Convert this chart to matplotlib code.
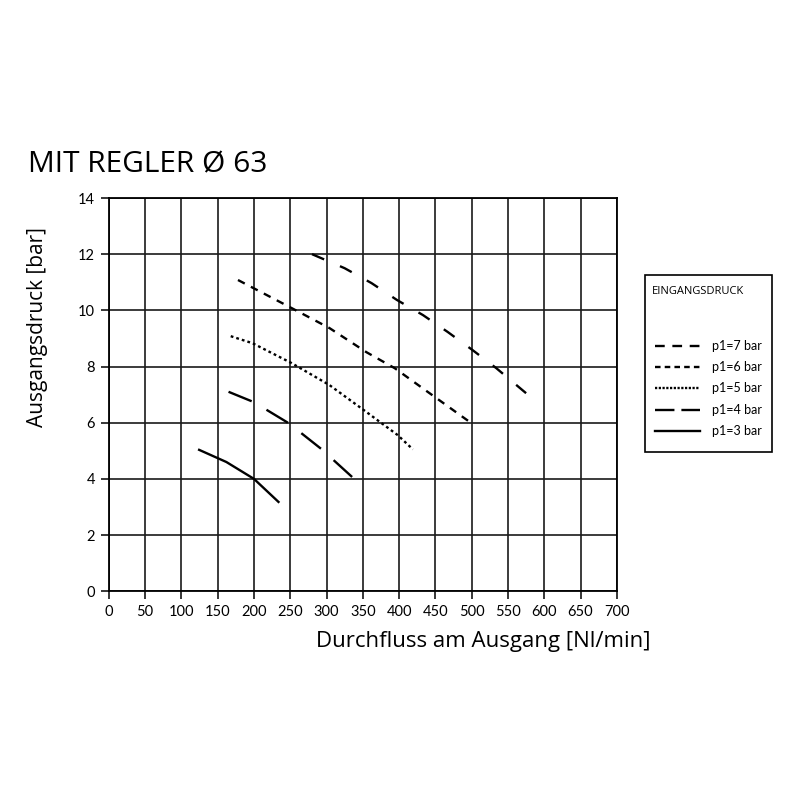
import matplotlib
matplotlib.use('Agg')
import matplotlib.pyplot as plt
from matplotlib.lines import Line2D
from matplotlib.patches import Rectangle

plt.rcParams['lines.scale_dashes'] = False

# data
x_p7 = [280, 325, 362, 397, 433, 467, 501, 534, 575]
y_p7 = [12.0, 11.5, 10.97, 10.37, 9.83, 9.23, 8.59, 7.94, 7.05]
x_p6 = [178, 252, 304, 355, 394, 442, 496]
y_p6 = [11.08, 10.08, 9.37, 8.51, 7.94, 7.05, 6.05]
x_p5 = [168, 198, 252, 304, 355, 398, 419]
y_p5 = [9.08, 8.83, 8.12, 7.34, 6.38, 5.56, 5.05]
x_p4 = [165, 200, 248, 293, 336]
y_p4 = [7.1, 6.73, 5.98, 5.06, 4.05]
x_p3 = [123, 162, 200, 235]
y_p3 = [5.05, 4.6, 4.0, 3.15]

labels = ['p1=7 bar', 'p1=6 bar', 'p1=5 bar', 'p1=4 bar', 'p1=3 bar']
dashes = [(9.5, 12.4), (5.5, 5), (2, 2.2), (18, 12.3), None]
leg_dashes = [(7, 5.5), (4, 3), (1.6, 1.1), (14, 5), None]
xticks = list(range(0, 701, 50))
yticks = list(range(0, 15, 2))

fig = plt.figure(figsize=(8, 8), dpi=100)
ax = fig.add_axes([0.136, 0.261, 0.635, 0.4915])

series = [(x_p7, y_p7), (x_p6, y_p6), (x_p5, y_p5), (x_p4, y_p4), (x_p3, y_p3)]
for (xs, ys), d in zip(series, dashes):
    ln, = ax.plot(xs, ys, color='black', lw=1.7, solid_capstyle='butt')
    if d is not None:
        ln.set_dashes(d)
        ln.set_dash_capstyle('butt')

ax.set_xlim(0, 700)
ax.set_ylim(0, 14)
ax.set_xticks(xticks)
ax.set_yticks(yticks)
ax.grid(True, color='#1a1a1a', lw=1.2)
ax.set_axisbelow(True)
for s in ax.spines.values():
    s.set_color('black')
    s.set_linewidth(1.3)
ax.tick_params(direction='out', length=6, width=1.1, labelsize=10.5, pad=4)
for lab in ax.get_xticklabels() + ax.get_yticklabels():
    lab.set_family('Lato')

fig.text(0.604, 0.1975, 'Durchfluss am Ausgang [Nl/min]', family='Open Sans',
         fontsize=16, ha='center', va='center')
fig.text(0.0475, 0.591, 'Ausgangsdruck [bar]', family='Open Sans',
         fontsize=15, ha='center', va='center', rotation=90)

fig.text(0.035, 0.785, 'MIT REGLER Ø 63', family='Open Sans', fontsize=21.5,
         ha='left', va='baseline')

# legend box drawn by hand
fig.patches.append(Rectangle((0.806, 0.435), 0.159, 0.221, transform=fig.transFigure,
                             fill=False, edgecolor='black', lw=1.2))
fig.text(0.815, 0.635, 'EINGANGSDRUCK', family='Open Sans', fontsize=8, va='center')
leg_y = [0.5675, 0.541, 0.515, 0.4875, 0.461]
for ly, lab, d in zip(leg_y, labels, leg_dashes):
    l = Line2D([0.819, 0.875], [ly, ly], transform=fig.transFigure, color='black', lw=1.7)
    if d is not None:
        l.set_dashes(d)
    fig.lines.append(l)
    fig.text(0.89, ly, lab, family='Lato', fontsize=9, va='center')

fig.savefig('out.png', dpi=100)
